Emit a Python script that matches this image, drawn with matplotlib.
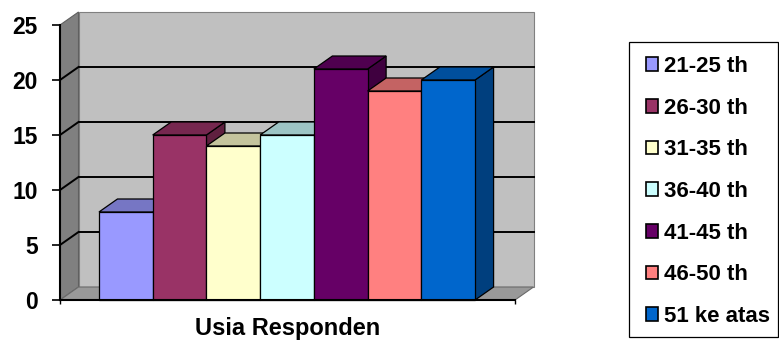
import matplotlib
matplotlib.use("Agg")
import matplotlib.pyplot as plt
from matplotlib.patches import Polygon, Patch, Rectangle
from matplotlib.lines import Line2D
import numpy as np

# ---- data ----
categories = ["21-25 th", "26-30 th", "31-35 th", "36-40 th", "41-45 th", "46-50 th", "51 ke atas"]
values = [8, 15, 14, 15, 21, 19, 20]
yticks = [0, 5, 10, 15, 20, 25]
xlabel_text = "Usia Responden"

# ---- style ----
face_colors = ["#9999FF", "#993366", "#FFFFCC", "#CCFFFF", "#660066", "#FF8080", "#0066CC"]
TOP_SHADE = 0.77
SIDE_SHADE = 0.62

plt.rcParams['font.family'] = ['Liberation Sans', 'DejaVu Sans']
plt.rcParams['font.weight'] = 'bold'

W, H = 779, 343
DPI = 100
fig = plt.figure(figsize=(W / DPI, H / DPI), dpi=DPI)
fig.patch.set_facecolor("white")

# front plane of plot in pixels
PX_L, PX_R, PX_B, PX_T = 60, 515, 300, 25
ax = fig.add_axes([PX_L / W, 1 - PX_B / H, (PX_R - PX_L) / W, (PX_B - PX_T) / H])
ax.set_facecolor("none")
X0, X1 = -1.225, 7.243
YMAX = 25
ax.set_xlim(X0, X1)
ax.set_ylim(0, YMAX)

# depth offset (pixels -> data)
DX_PX, DY_PX = 18.5, 13
dx = DX_PX * (X1 - X0) / (PX_R - PX_L)
dy = DY_PX * YMAX / (PX_B - PX_T)

def shade(c, f):
    r, g, b = matplotlib.colors.to_rgb(c)
    return (r * f, g * f, b * f)

# walls
back = Polygon([(X0 + dx, dy), (X1 + dx, dy), (X1 + dx, YMAX + dy), (X0 + dx, YMAX + dy)],
               closed=True, facecolor="#C0C0C0", edgecolor="#808080", lw=0.8, clip_on=False, zorder=1)
left = Polygon([(X0, 0), (X0 + dx, dy), (X0 + dx, YMAX + dy), (X0, YMAX)],
               closed=True, facecolor="#808080", edgecolor="#606060", lw=0.8, clip_on=False, zorder=1)
floor = Polygon([(X0, 0), (X1, 0), (X1 + dx, dy), (X0 + dx, dy)],
                closed=True, facecolor="#999999", edgecolor="#6a6a6a", lw=0.8, clip_on=False, zorder=1)
for p in (back, left, floor):
    ax.add_patch(p)

# gridlines on back and left wall
for v in yticks[1:-1]:
    ax.add_line(Line2D([X0 + dx, X1 + dx], [v + dy, v + dy], color="black", lw=1.4, clip_on=False, zorder=2))
    ax.add_line(Line2D([X0, X0 + dx], [v, v + dy], color="black", lw=1.4, clip_on=False, zorder=2))

# bars
x = np.arange(len(values))
bars = ax.bar(x, values, width=1.0, color=face_colors, edgecolor="black", linewidth=0.9)
for i, (xi, v, c) in enumerate(zip(x, values, face_colors)):
    z = 10 + 3 * i
    side = Polygon([(xi + 0.5, 0), (xi + 0.5 + dx, dy), (xi + 0.5 + dx, v + dy), (xi + 0.5, v)],
                   closed=True, facecolor=shade(c, SIDE_SHADE), edgecolor="black", lw=0.9,
                   clip_on=False, zorder=z)
    top = Polygon([(xi - 0.5, v), (xi + 0.5, v), (xi + 0.5 + dx, v + dy), (xi - 0.5 + dx, v + dy)],
                  closed=True, facecolor=shade(c, TOP_SHADE), edgecolor="black", lw=0.9,
                  clip_on=False, zorder=z + 1)
    ax.add_patch(side)
    ax.add_patch(top)
    bars[i].set_zorder(z + 2)
    bars[i].set_clip_on(False)

# axes styling
for s in ("top", "right"):
    ax.spines[s].set_visible(False)
for s in ("left", "bottom"):
    ax.spines[s].set_linewidth(1.5)
    ax.spines[s].set_color("black")
    ax.spines[s].set_zorder(50)
ax.set_yticks(yticks)
ax.set_yticklabels([str(t) for t in yticks])
ax.tick_params(axis="y", direction="out", length=6, width=1.2, pad=10, labelsize=16.5)
ax.set_xticks([X0, X1])
ax.set_xticklabels([])
ax.tick_params(axis="x", direction="out", length=3, width=1.0)
for lab in ax.get_yticklabels():
    lab.set_fontweight("bold")
ax.set_xlabel(xlabel_text, fontsize=17, fontweight="bold", labelpad=6)

# legend
handles = [Patch(facecolor=c, edgecolor="black", linewidth=1.2) for c in face_colors]
leg = fig.legend(handles, categories, loc="upper left",
                 bbox_to_anchor=(646 / W, 1 - 56 / H), frameon=False,
                 prop={"size": 16, "weight": "bold"},
                 handlelength=0.55, handleheight=0.55, handletextpad=0.25,
                 labelspacing=0.93, borderpad=0, borderaxespad=0)
fig.patches.append(Rectangle((629 / W, 1 - 337 / H), (778 - 629) / W, (337 - 42) / H,
                             transform=fig.transFigure, fill=False, edgecolor="black", lw=0.9))

fig.savefig("out.png", dpi=DPI)
